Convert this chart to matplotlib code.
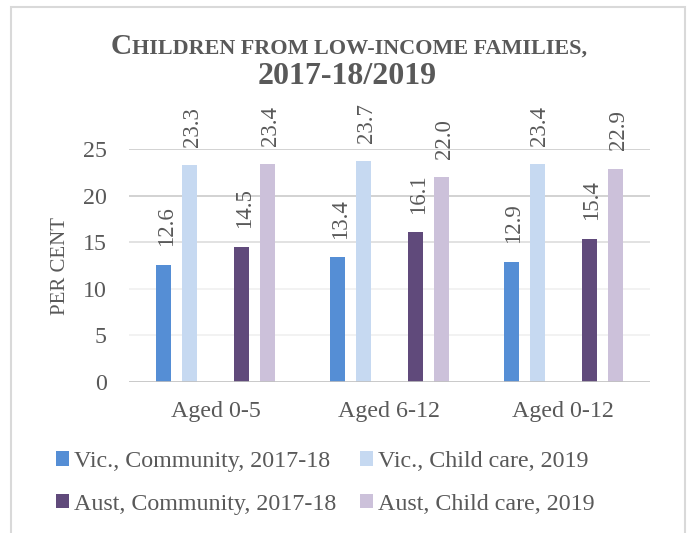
import matplotlib
matplotlib.use("Agg")
import matplotlib.pyplot as plt
from matplotlib.patches import Rectangle
from matplotlib.offsetbox import TextArea, HPacker, AnchoredOffsetbox
import numpy as np

# data
groups = ["Aged 0-5", "Aged 6-12", "Aged 0-12"]
vic_community = [12.6, 13.4, 12.9]
vic_childcare = [23.3, 23.7, 23.4]
aust_community = [14.5, 16.1, 15.4]
aust_childcare = [23.4, 22.0, 22.9]
series_names = ["Vic., Community, 2017-18", "Vic., Child care, 2019",
                "Aust, Community, 2017-18", "Aust, Child care, 2019"]
series_colors = ["#558ED5", "#C6D9F1", "#604A7B", "#CCC1DA"]
yticks = [0, 5, 10, 15, 20, 25]

GREY = "#595959"
SERIF = "Liberation Serif"

fig = plt.figure(figsize=(6.9, 5.33), dpi=100)
ax = fig.add_axes([129 / 690, 1 - 381.7 / 533, 521 / 690, 232.4 / 533])

x = np.arange(len(groups))
offsets = [-0.30, -0.15, 0.15, 0.30]
width = 0.0864
all_series = [vic_community, vic_childcare, aust_community, aust_childcare]

# gridlines get lighter towards the bottom
grid_cols = {5: "#efefef", 10: "#efefef", 15: "#dadada", 20: "#c6c6c6", 25: "#c6c6c6"}
for lvl, c in grid_cols.items():
    ax.axhline(lvl, color=c, lw=1.1, zorder=0)
ax.axhline(0, color="#c0c0c0", lw=1.2, zorder=3)

bars = []
for off, vals, col, name in zip(offsets, all_series, series_colors, series_names):
    b = ax.bar(x + off, vals, width, color=col, label=name, zorder=2)
    bars.append(b)
    for xi, v in zip(x + off, vals):
        ax.annotate(f"{v:.1f}", xy=(xi, v), xytext=(2.0, 13.3),
                    textcoords="offset points", rotation=90,
                    ha="center", va="bottom", fontsize=16.5,
                    family=SERIF, color=GREY, annotation_clip=False)

ax.set_xlim(-0.5, 2.5)
ax.set_ylim(0, 25)
ax.set_yticks(yticks)
ax.set_yticklabels([str(t) for t in yticks], family=SERIF, fontsize=17.3, color=GREY)
ax.set_xticks(x)
ax.set_xticklabels(groups, family=SERIF, fontsize=17.3, color=GREY)
ax.tick_params(axis="y", length=0, pad=16)
ax.tick_params(axis="x", length=0, pad=14)
for s in ax.spines.values():
    s.set_visible(False)

fig.text(60.5 / 690, 1 - 266 / 533, "PER CENT", rotation=90, ha="center",
         va="center", family=SERIF, fontsize=15, color=GREY)

# title, first line in small caps
big = dict(family=SERIF, weight="bold", size=21.2, color=GREY)
small = dict(family=SERIF, weight="bold", size=15.9, color=GREY)
line1 = HPacker(children=[TextArea("C", textprops=big),
                          TextArea("HILDREN FROM LOW-INCOME FAMILIES,", textprops=small)],
                align="baseline", pad=0, sep=0)
fig.add_artist(AnchoredOffsetbox(loc="center", child=line1, frameon=False, pad=0,
                                 borderpad=0, bbox_to_anchor=(349 / 690, 1 - 46 / 533),
                                 bbox_transform=fig.transFigure))
fig.text(347.5 / 690, 1 - 76 / 533, "2017-18/2019", ha="center", va="center",
         family=SERIF, weight="bold", fontsize=23, color=GREY)

handles = [bars[0], bars[2], bars[1], bars[3]]
labels = [series_names[0], series_names[2], series_names[1], series_names[3]]
leg = fig.legend(handles, labels, ncol=2, loc="upper left",
                 bbox_to_anchor=(56 / 690, 1 - 451 / 533), frameon=False,
                 prop=dict(family=SERIF, size=17.3), handlelength=0.55,
                 handleheight=0.55, handletextpad=0.2, columnspacing=0.98,
                 labelspacing=0.9, borderpad=0, borderaxespad=0)
for t in leg.get_texts():
    t.set_color(GREY)

fig.add_artist(Rectangle((10.5 / 690, -0.05), (685 - 10.5) / 690, 1.05 - 6.5 / 533,
                         transform=fig.transFigure, fill=False,
                         edgecolor="#d9d9d9", lw=1.5))

fig.savefig("out.png", dpi=100)
